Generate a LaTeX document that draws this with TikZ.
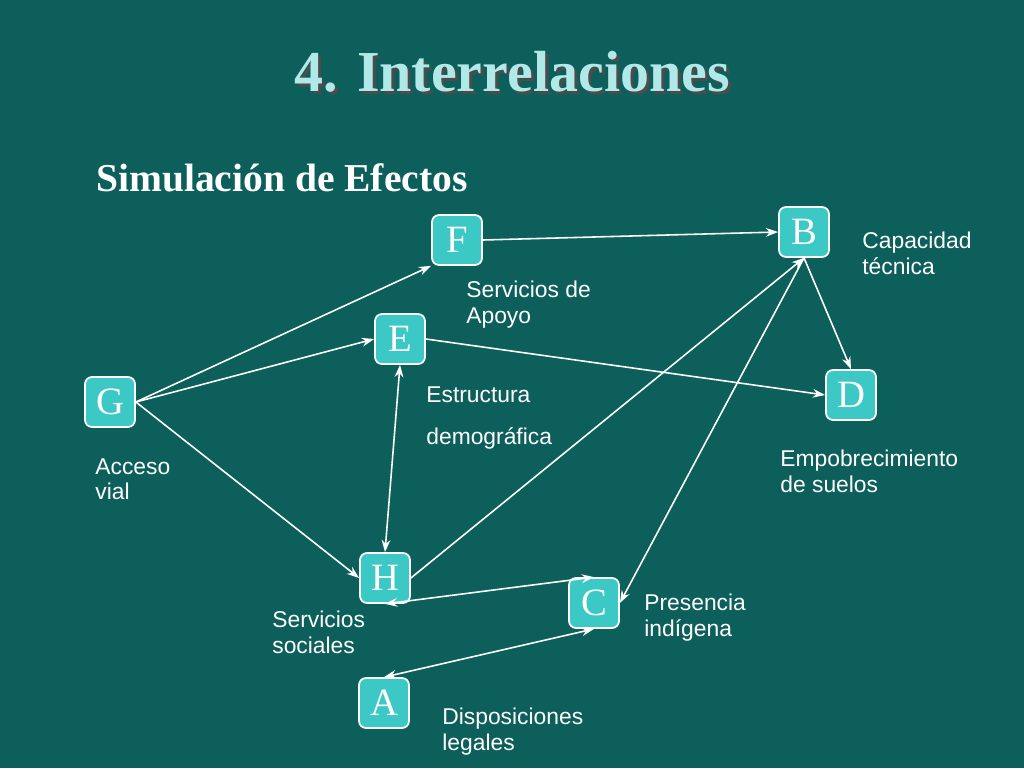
\documentclass[tikz,border=0pt]{standalone}
\usepackage{fontspec}
\setmainfont{Liberation Serif}
\newfontfamily\lsans{Liberation Sans}
\usetikzlibrary{arrows.meta}
\definecolor{bg}{HTML}{0C5F5B}
\definecolor{boxc}{HTML}{3CC9C6}
\begin{document}
\begin{tikzpicture}[x=0.02cm,y=-0.02cm,
  box/.style={draw=white,line width=1pt,fill=boxc,rounded corners=4pt,minimum width=50*0.02cm,minimum height=50*0.02cm,inner sep=0pt,text=white,font=\fontsize{22}{22}\selectfont},
  lbl/.style={anchor=north west,align=left,text=white,inner sep=0pt,font=\lsans\fontsize{13}{14.7}\selectfont},
  con/.style={draw=white,line width=0.9pt,-{Stealth[length=7pt,width=5pt]}},
  bcon/.style={draw=white,line width=0.9pt,{Stealth[length=7pt,width=5pt]}-{Stealth[length=7pt,width=5pt]}}]
\fill[bg] (0,0) rectangle (1024,768);
\useasboundingbox (0,0) rectangle (1024,768);
\node[text=black!70,font=\bfseries\fontsize{33}{33}\selectfont] (shadow) at (515,75) {4. Interrelaciones};
\node[text=boxc!40!white,font=\bfseries\fontsize{33}{33}\selectfont] (title) at (512,72) {4. Interrelaciones};
\node[anchor=west,inner sep=0pt,text=white,font=\bfseries\fontsize{22.5}{22.5}\selectfont] (sub) at (96,178) {Simulación de Efectos};
\node[box] (F) at (457,240) {F};
\node[box] (B) at (804,232) {B};
\node[box] (E) at (400,339) {E};
\node[box] (D) at (851,395) {D};
\node[box] (G) at (110,402) {G};
\node[box] (H) at (385,578) {H};
\node[box] (C) at (594,603) {C};
\node[box] (A) at (384,703) {A};
\node[lbl] (l1) at (862,232) {Capacidad\\técnica};
\node[lbl] (l2) at (466,281) {Servicios de\\Apoyo};
\node[lbl] (l3) at (426,386) {Estructura};
\node[lbl] (l4) at (426,427) {demográfica};
\node[lbl] (l5) at (95,458) {Acceso\\vial};
\node[lbl] (l6) at (780,450) {Empobrecimiento\\de suelos};
\node[lbl] (l7) at (272,611) {Servicios\\sociales};
\node[lbl] (l8) at (644,594) {Presencia\\indígena};
\node[lbl] (l9) at (442,708) {Disposiciones\\legales};
\draw[con] (F.east) -- (B.west);
\draw[con] (G.east) -- (F.south west);
\draw[con] (G.east) -- (E.west);
\draw[con] (G.east) -- (H.west);
\draw[con] (E.east) -- (D.west);
\draw[bcon] (E.south) -- (H.north);
\draw[con] (H.east) -- (B.south);
\draw[con] (B.south) -- (C.east);
\draw[con] (B.south) -- (D.north);
\draw[bcon] (H.south) -- (C.north);
\draw[bcon] (A.north) -- (C.south);
\end{tikzpicture}
\end{document}
